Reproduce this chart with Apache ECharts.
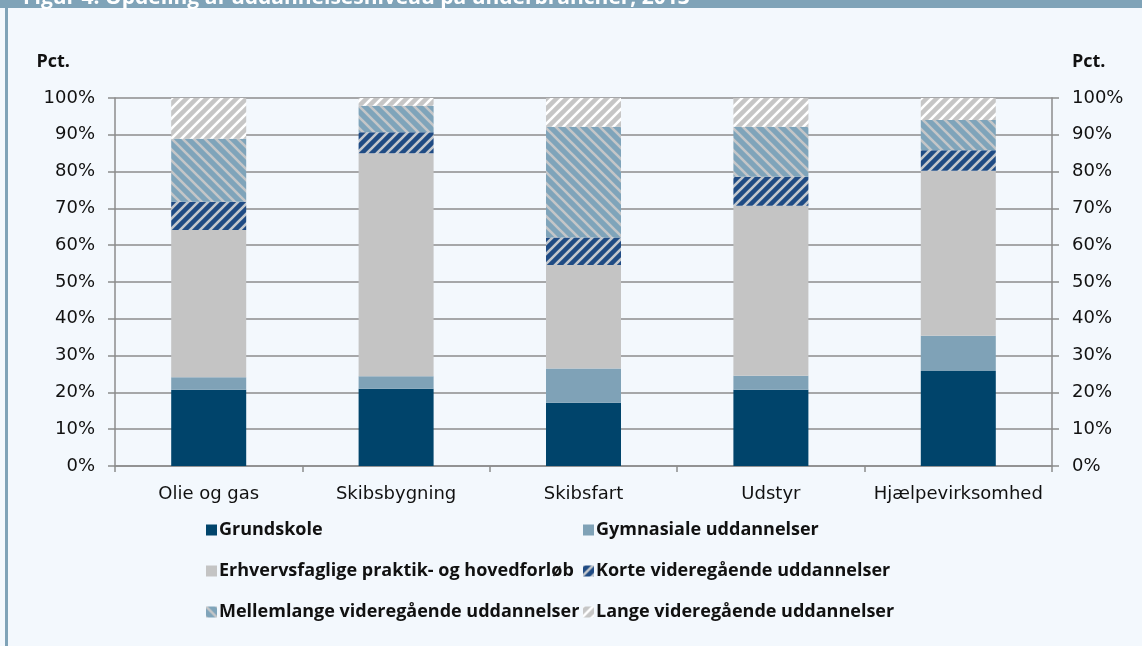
<!DOCTYPE html>
<html>
<head>
<meta charset="utf-8">
<script src="https://cdn.jsdelivr.net/npm/echarts@6/dist/echarts.min.js"></script>
<style>
    html, body { margin: 0; padding: 0; background: #f3f8fd; }
    #main { width: 1142px; height: 646px; }
</style>
</head>
<body>
<div id="main"></div>
<script>
const categories = ['Olie og gas', 'Skibsbygning', 'Skibsfart', 'Udstyr', 'Hjælpevirksomhed'];
const grundskole = [20.7, 21.0, 17.2, 20.7, 25.8];
const gymnasiale = [3.4, 3.4, 9.3, 3.8, 9.6];
const erhverv = [40.0, 60.6, 28.1, 46.2, 44.8];
const korte = [7.7, 5.7, 7.5, 7.9, 5.6];
const mellemlange = [17.1, 7.2, 30.1, 13.6, 8.2];
const lange = [11.1, 2.1, 7.8, 7.8, 6.0];
const yTicks = [0, 10, 20, 30, 40, 50, 60, 70, 80, 90, 100];

// striped fill for the hatched series
function stripes (bg, fg, dir, size, lw) {
    const c = document.createElement('canvas');
    c.width = size;
    c.height = size;
    const ctx = c.getContext('2d');
    ctx.fillStyle = bg;
    ctx.fillRect(0, 0, size, size);
    ctx.strokeStyle = fg;
    ctx.lineWidth = lw;
    ctx.beginPath();
    if (dir === '/') {
        ctx.moveTo(-3, 3); ctx.lineTo(3, -3);
        ctx.moveTo(0, size); ctx.lineTo(size, 0);
        ctx.moveTo(size - 3, size + 3); ctx.lineTo(size + 3, size - 3);
    } else {
        ctx.moveTo(0, 0); ctx.lineTo(size, size);
        ctx.moveTo(-3, size - 3); ctx.lineTo(3, size + 3);
        ctx.moveTo(size - 3, -3); ctx.lineTo(size + 3, 3);
    }
    ctx.stroke();
    return { image: c, repeat: 'repeat' };
}

const axisFont = 'DejaVu Sans';
const boldFont = 'Open Sans';

function bar (name, data, color) {
    return {
        name: name,
        type: 'bar',
        stack: 'total',
        barWidth: 75,
        data: data,
        itemStyle: { color: color },
        emphasis: { disabled: true }
    };
}

const yAxisBase = {
    type: 'value',
    min: 0,
    max: 100,
    interval: 10,
    axisLine: { show: true, lineStyle: { color: '#8c8c8c', width: 1.5 } },
    axisTick: { show: true, length: 7, lineStyle: { color: '#8c8c8c', width: 1.5 } },
    splitLine: { show: true, lineStyle: { color: '#8c8c8c', width: 1.5 } },
    axisLabel: {
        margin: 20,
        color: '#111',
        fontFamily: axisFont,
        fontSize: 18,
        formatter: (v) => yTicks.indexOf(v) >= 0 ? v + '%' : ''
    },
    nameGap: 27,
    nameTextStyle: { fontFamily: boldFont, fontWeight: 'bold', fontSize: 18, color: '#111' }
};

const legendText = { fontFamily: boldFont, fontWeight: 'bold', fontSize: 18, color: '#111', lineHeight: 20, padding: [0, 0, 0, -3] };

let myChart = echarts.init(document.getElementById('main'));
myChart.setOption({
    backgroundColor: '#f3f8fd',
    animation: false,
    title: {
        text: 'Figur 4. Opdeling af uddannelsesniveau på underbrancher, 2013',
        left: 18,
        top: -17,
        textStyle: { color: '#fff', fontFamily: boldFont, fontWeight: 'bold', fontSize: 21 }
    },
    graphic: [
        { type: 'rect', left: 0, top: 0, shape: { width: 1142, height: 8 }, style: { fill: '#7fa3b8' }, z: -1 },
        { type: 'rect', left: 5, top: 0, shape: { width: 3, height: 646 }, style: { fill: '#7fa3b8' }, z: -1 }
    ],
    grid: { left: 115, right: 90, top: 98, bottom: 180 },
    legend: [{
        orient: 'vertical',
        left: 201,
        top: 515,
        itemWidth: 11,
        itemHeight: 11,
        itemGap: 21,
        icon: 'rect',
        data: ['Grundskole', 'Erhvervsfaglige praktik- og hovedforløb', 'Mellemlange videregående uddannelser'],
        textStyle: legendText
    }, {
        orient: 'vertical',
        left: 578,
        top: 515,
        itemWidth: 11,
        itemHeight: 11,
        itemGap: 21,
        icon: 'rect',
        data: ['Gymnasiale uddannelser', 'Korte videregående uddannelser', 'Lange videregående uddannelser'],
        textStyle: legendText
    }],
    xAxis: {
        type: 'category',
        data: categories,
        axisLine: { show: true, lineStyle: { color: '#8c8c8c', width: 1.5 } },
        axisTick: { show: true, length: 6, lineStyle: { color: '#8c8c8c', width: 1.5 } },
        axisLabel: { interval: 0, margin: 19, color: '#111', fontFamily: axisFont, fontSize: 18 }
    },
    yAxis: [
        Object.assign({}, yAxisBase, {
            position: 'left',
            name: 'Pct.',
            nameTextStyle: Object.assign({}, yAxisBase.nameTextStyle, { align: 'right', padding: [0, 45, 0, 0] })
        }),
        Object.assign({}, yAxisBase, {
            position: 'right',
            splitLine: { show: false },
            name: 'Pct.',
            nameTextStyle: Object.assign({}, yAxisBase.nameTextStyle, { align: 'left', padding: [0, 0, 0, 20] })
        })
    ],
    series: [
        bar('Grundskole', grundskole, '#00446b'),
        bar('Gymnasiale uddannelser', gymnasiale, '#7fa2b7'),
        bar('Erhvervsfaglige praktik- og hovedforløb', erhverv, '#c4c4c4'),
        bar('Korte videregående uddannelser', korte, stripes('#1f4b84', '#c3c7cc', '/', 10, 2.6)),
        bar('Mellemlange videregående uddannelser', mellemlange, stripes('#7fa4ba', '#c4c6c8', '\\', 11, 2.6)),
        bar('Lange videregående uddannelser', lange, stripes('#c6c6c6', '#ffffff', '/', 10, 2.6))
    ]
});
</script>
</body>
</html>
